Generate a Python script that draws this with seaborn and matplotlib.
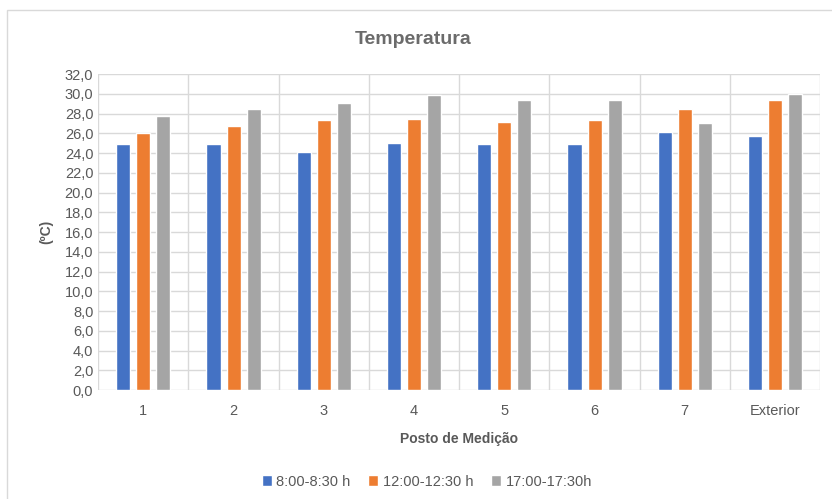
import matplotlib.pyplot as plt
import matplotlib.patches as mpatches
import numpy as np
import pandas as pd
import seaborn as sns
from matplotlib.ticker import FuncFormatter, FixedLocator

postos = ["1", "2", "3", "4", "5", "6", "7", "Exterior"]
series_names = ["8:00-8:30 h", "12:00-12:30 h", "17:00-17:30h"]
manha = [24.9, 24.9, 24.1, 25.0, 24.9, 24.9, 26.1, 25.7]
meio_dia = [26.0, 26.7, 27.3, 27.4, 27.1, 27.3, 28.5, 29.4]
tarde = [27.7, 28.5, 29.1, 29.9, 29.4, 29.4, 27.0, 30.0]
colors = ["#4472C4", "#ED7D31", "#A5A5A5"]

df = pd.DataFrame({
    "Posto": postos * 3,
    "Periodo": [series_names[0]] * 8 + [series_names[1]] * 8 + [series_names[2]] * 8,
    "Temp": manha + meio_dia + tarde,
})

sns.set_style("white")
plt.rcParams["font.family"] = ["Liberation Sans", "DejaVu Sans"]
txt = "#595959"

fig = plt.figure(figsize=(8.32, 4.99), dpi=100)
ax = fig.add_axes([0.118, 0.2184, 0.8678, 0.6333])

sns.barplot(data=df, x="Posto", y="Temp", hue="Periodo", palette=colors,
            width=0.667, gap=0.3, ax=ax, saturation=1, errorbar=None)

ax.set_ylim(0, 32)
ax.set_xlim(-0.5, 7.5)
ax.yaxis.set_major_locator(FixedLocator(np.arange(0, 33, 2)))
ax.yaxis.set_major_formatter(FuncFormatter(lambda v, p: f"{v:.1f}".replace(".", ",")))
ax.xaxis.set_minor_locator(FixedLocator(np.arange(-0.5, 8, 1)))
ax.grid(axis="y", which="major", color="#d9d9d9", lw=1)
ax.grid(axis="x", which="minor", color="#d9d9d9", lw=1)
ax.set_axisbelow(True)
for s in ax.spines.values():
    s.set_visible(False)
ax.tick_params(axis="both", which="both", length=0, colors=txt, labelsize=10.5)
ax.tick_params(axis="x", pad=10)

ax.set_xlabel("Posto de Medição", fontsize=10, fontweight="bold", color=txt, labelpad=10)
ax.set_ylabel("(ºC)", fontsize=10, fontweight="bold", color=txt, labelpad=8)
fig.text(0.496, 0.92, "Temperatura", ha="center", va="center", fontsize=14,
         fontweight="bold", color="#6b6b6b")

ax.legend(loc="center", bbox_to_anchor=(0.513, 0.035), bbox_transform=fig.transFigure,
          ncol=3, frameon=False, fontsize=10.5, labelcolor=txt, handlelength=0.7,
          handleheight=0.7, handletextpad=0.3, columnspacing=1.2)

# thin outer frame like the chart area border
fig.patches.append(mpatches.Rectangle((0.009, -0.01), 1.1, 0.99, transform=fig.transFigure,
                                      fill=False, edgecolor="#d9d9d9", lw=1))

fig.savefig("out.png", dpi=100)
